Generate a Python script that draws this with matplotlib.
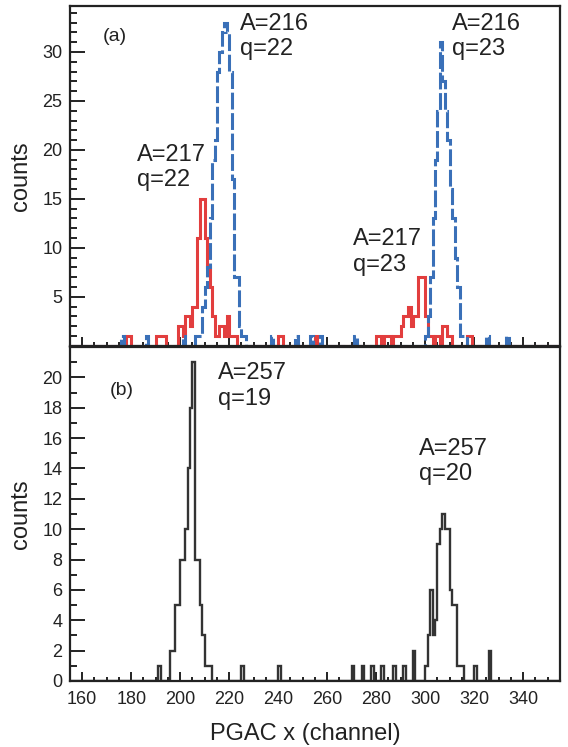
import numpy as np
import matplotlib.pyplot as plt
from matplotlib.ticker import MultipleLocator

plt.rcParams['font.family'] = ['Liberation Sans', 'DejaVu Sans']

# 1-channel bins over the PGAC x range
edges = np.arange(155, 357)

# (a) A=217 (red), bin lower edge -> counts
red_ch = [178, 179, 190, 191, 192, 193, 199, 200, 201, 202, 203, 204, 205, 206,
          207, 208, 209, 210, 211, 212, 213, 214, 215, 216, 217, 218, 219, 220,
          221, 222, 240, 241, 255, 280, 281, 283, 284, 285, 287, 288, 289, 290,
          291, 292, 293, 294, 295, 296, 297, 298, 299, 300, 301, 302, 304, 305,
          307, 308, 309, 310, 317, 318]
red_n = [1, 1, 1, 1, 1, 1, 2, 2, 1, 3, 3, 2, 4, 4,
         11, 15, 15, 11, 8, 6, 3, 1, 1, 2, 2, 1, 3, 1,
         1, 1, 1, 1, 1, 1, 1, 1, 1, 1, 1, 1, 1, 2,
         3, 3, 4, 2, 3, 3, 7, 7, 7, 3, 1, 1, 1, 1,
         2, 2, 1, 1, 1, 1]

# (a) A=216 (blue, dashed)
blue_ch = [176, 186, 201, 206, 207, 208, 209, 210, 211, 212, 213, 214, 215, 216,
           217, 218, 219, 220, 221, 222, 223, 224, 225, 226, 237, 247, 253, 257,
           271, 300, 301, 302, 303, 304, 305, 306, 307, 308, 309, 310, 311, 312,
           313, 314, 315, 316, 325, 333]
blue_n = [1, 1, 1, 1, 1, 1, 4, 6, 8, 13, 19, 21, 28, 30,
          32, 33, 32, 28, 17, 7, 7, 2, 1, 1, 1, 1, 1, 1,
          1, 1, 3, 7, 13, 19, 24, 31, 27, 24, 21, 16, 13, 9,
          6, 1, 1, 1, 1, 1]

# (b) A=257
b_ch = [191, 196, 197, 198, 199, 200, 201, 202, 203, 204, 205, 206, 207, 208,
        209, 210, 211, 212, 225, 240, 270, 274, 278, 282, 287, 291, 295, 300,
        301, 302, 303, 304, 305, 306, 307, 308, 309, 310, 311, 312, 313, 314,
        315, 320, 326]
b_n = [1, 2, 2, 5, 5, 8, 8, 10, 14, 18, 21, 8, 8, 5,
       3, 1, 1, 1, 1, 1, 1, 1, 1, 1, 1, 1, 2, 1,
       3, 6, 3, 4, 9, 10, 11, 10, 10, 6, 5, 5, 1, 1,
       1, 1, 2]

fig = plt.figure(figsize=(5.68, 7.47), dpi=100)
ax1 = fig.add_axes([0.1232, 0.5372, 0.8627, 0.4548])
ax2 = fig.add_axes([0.1232, 0.0884, 0.8627, 0.4471])

ax1.hist(red_ch, bins=edges, weights=red_n, histtype='step',
         color='#e23e3e', lw=2.2)
ax1.hist(blue_ch, bins=edges, weights=blue_n, histtype='step',
         color='#3a70b8', lw=2.2, ls=(0, (5.5, 1.2)))
ax2.hist(b_ch, bins=edges, weights=b_n, histtype='step',
         color='#333333', lw=1.7)

ax1.set_xlim(155, 355)
ax1.set_ylim(0, 34.7)
ax1.set_yticks(range(5, 31, 5))
ax2.set_xlim(155, 355)
ax2.set_ylim(0, 22)
ax2.set_yticks(range(0, 21, 2))

for ax in (ax1, ax2):
    ax.set_xticks(range(160, 341, 20))
    ax.xaxis.set_minor_locator(MultipleLocator(5))
    ax.yaxis.set_minor_locator(MultipleLocator(1))
    ax.tick_params(which='both', direction='in', top=False, right=False,
                   width=1.4, colors='#222222', labelsize=13)
    ax.tick_params(axis='y', which='major', length=10.8, pad=5.5)
    ax.tick_params(axis='y', which='minor', length=5)
    ax.tick_params(axis='x', which='major', length=6.5, pad=7)
    ax.tick_params(axis='x', which='minor', length=3)
    for s in ax.spines.values():
        s.set_linewidth(1.6)
        s.set_color('#222222')
    ax.set_ylabel('counts', fontsize=17, color='#222222')
    ax.yaxis.set_label_coords(-0.078, 0.5)

ax1.tick_params(labelbottom=False)
ax2.set_xlabel('PGAC x (channel)', fontsize=17, color='#222222')
ax2.xaxis.set_label_coords(0.48, -0.126)

txt = dict(fontsize=17, color='#222222', va='top', ha='left', linespacing=1.2)
ax1.text(168.3, 32.5, '(a)', fontsize=14, color='#222222', va='top')
ax1.text(224.4, 34.0, 'A=216\nq=22', **txt)
ax1.text(310.8, 34.0, 'A=216\nq=23', **txt)
ax1.text(182.5, 20.6, 'A=217\nq=22', **txt)
ax1.text(270.4, 12.0, 'A=217\nq=23', **txt)

ax2.text(171.3, 19.7, '(b)', fontsize=14, color='#222222', va='top')
ax2.text(215.5, 21.0, 'A=257\nq=19', **txt)
ax2.text(297.6, 16.0, 'A=257\nq=20', **txt)

fig.savefig('out.png', dpi=100)
